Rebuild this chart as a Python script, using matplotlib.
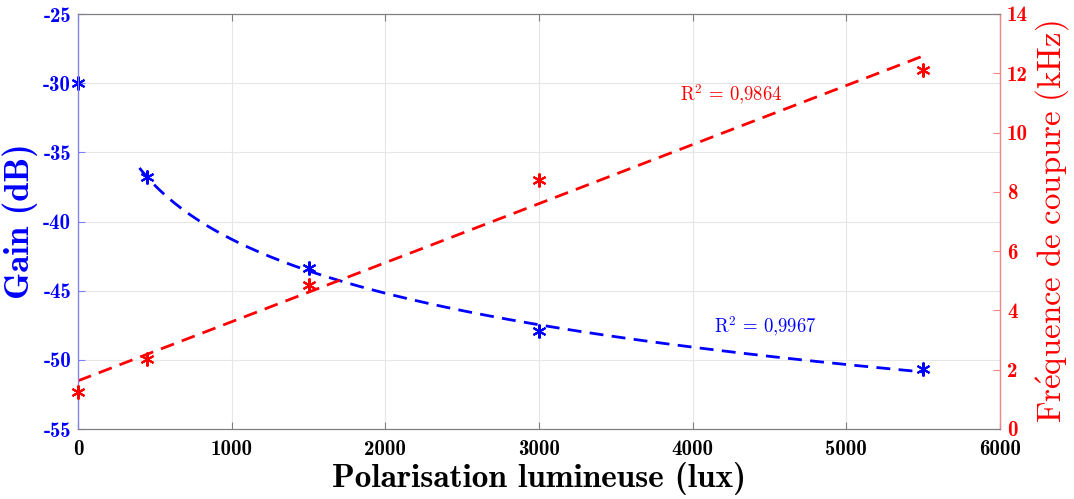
import numpy as np
import matplotlib
matplotlib.use("Agg")
import matplotlib.pyplot as plt

plt.rcParams['axes.unicode_minus'] = False
plt.rcParams['mathtext.fontset'] = 'cm'

# données mesurées
lux = np.array([0, 450, 1500, 3000, 5500])
gain_db = np.array([-30.0, -36.8, -43.35, -47.9, -50.65])
fc_khz = np.array([1.25, 2.35, 4.85, 8.4, 12.1])

r2_gain = "0,9967"
r2_fc = "0,9864"

bold_font = ['cmb10', 'DejaVu Serif']
blue = (0, 0, 1)
red = (1, 0, 0)

# ajustements (log pour le gain, sans le point a 0 lux ; lineaire pour fc)
pg = np.polyfit(np.log(lux[1:]), gain_db[1:], 1)
xg = np.linspace(400, 5500, 200)
yg = np.polyval(pg, np.log(xg))

pf = np.polyfit(lux, fc_khz, 1)
xf = np.linspace(0, 5500, 200)
yf = np.polyval(pf, xf)

fig = plt.figure(figsize=(10.74, 4.99), dpi=100)
ax = fig.add_axes([78/1074, 70/499, 922/1074, 415/499])
ax2 = ax.twinx()

ax.plot(lux, gain_db, linestyle='none', marker=(6, 2, 0), ms=10, mew=1.5, color=blue, clip_on=False, zorder=5)
ax.plot(xg, yg, '--', color=blue, lw=2, dashes=(5, 3))
ax2.plot(lux, fc_khz, linestyle='none', marker=(6, 2, 0), ms=10, mew=1.5, color=red, clip_on=False, zorder=5)
ax2.plot(xf, yf, '--', color=red, lw=2, dashes=(5, 3))

ax.set_xlim(0, 6000)
ax.set_ylim(-55, -25)
ax2.set_ylim(0, 14)
ax.set_xticks(np.arange(0, 6001, 1000))
ax.set_yticks(np.arange(-55, -24, 5))
ax2.set_yticks(np.arange(0, 15, 2))

ax.grid(True, color='#e6e6e6', lw=0.8)
ax.set_axisbelow(True)

ax.tick_params(axis='x', direction='in', top=True, colors='#7f7f7f', labelcolor='black', length=5, pad=8)
ax.tick_params(axis='y', direction='in', colors='#8080ff', labelcolor=blue, length=5, pad=5)
ax2.tick_params(axis='y', direction='in', colors='#ff8080', labelcolor=red, length=5, pad=5)
for a in (ax, ax2):
    a.spines['top'].set_color('#7f7f7f')
    a.spines['bottom'].set_color('#7f7f7f')
ax2.spines['left'].set_color('#8080ff')
ax2.spines['right'].set_color('#ff8080')

for lab in ax.get_xticklabels() + ax.get_yticklabels() + ax2.get_yticklabels():
    lab.set_family(bold_font)
    lab.set_fontsize(15)

ax.set_xlabel('Polarisation lumineuse (lux)', family=bold_font, fontsize=24, labelpad=2)
ax.set_ylabel('Gain (dB)', family=bold_font, fontsize=25, color=blue, labelpad=4)
ax2.set_ylabel(r'$\mathrm{Fr\acute{e}quence\ de\ coupure\ (kHz)}$', fontsize=23.7, color=red, labelpad=4)

ax2.text(3918, 11.27, r'$\mathrm{R}^2\,=\,' + r2_fc.replace(',', '{,}') + '$',
         color=red, fontsize=13.5, va='center', ha='left')
ax.text(4139, -47.63, r'$\mathrm{R}^2\,=\,' + r2_gain.replace(',', '{,}') + '$',
        color=blue, fontsize=13.5, va='center', ha='left')

fig.savefig('out.png', dpi=100)
